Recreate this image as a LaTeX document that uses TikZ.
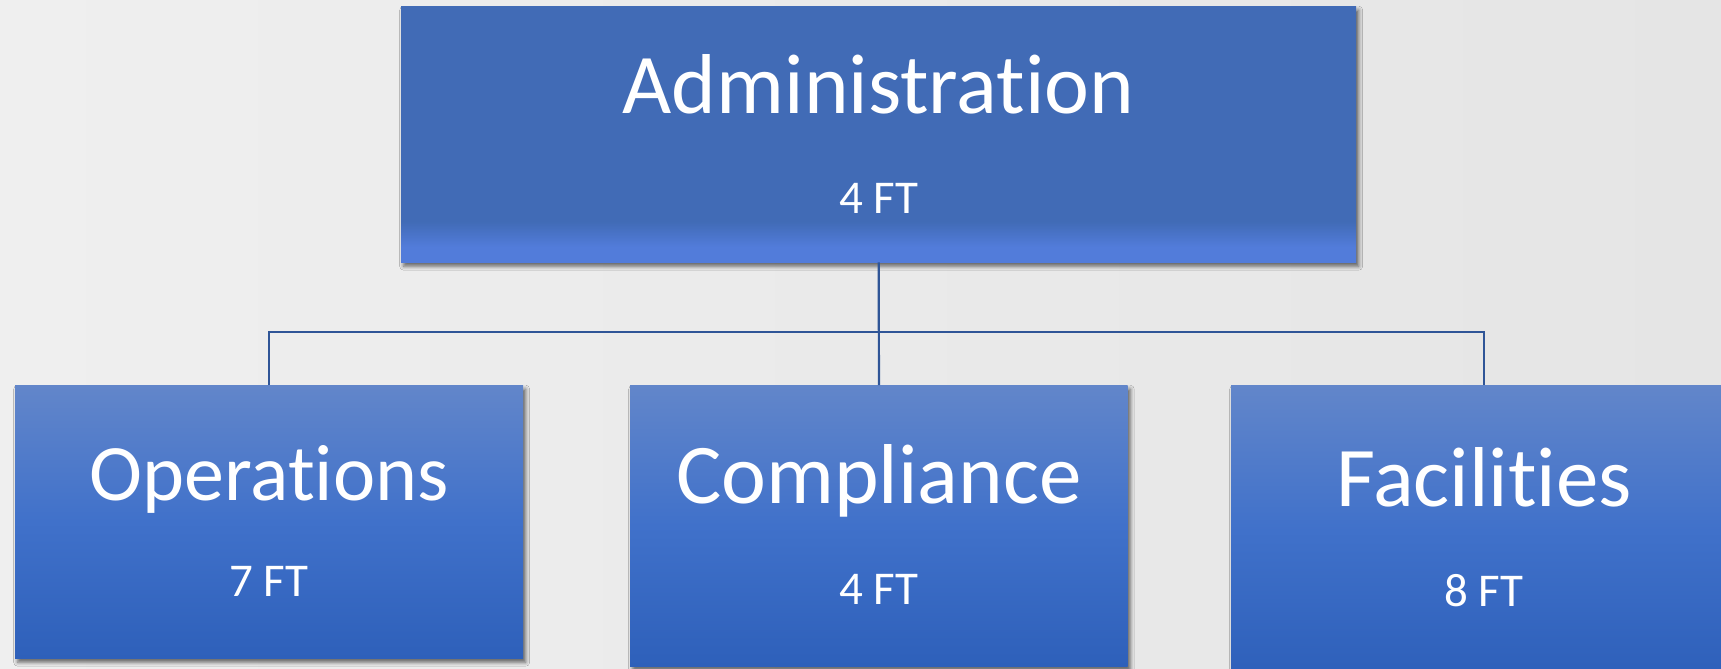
\documentclass[tikz,border=0pt]{standalone}
\usepackage{fontspec}
\setmainfont{Carlito}[Ligatures=NoCommon]
\usetikzlibrary{shadows.blur}
\definecolor{bgl}{RGB}{239,239,239}
\definecolor{bgr}{RGB}{229,229,229}
\definecolor{linec}{RGB}{47,85,151}
\definecolor{tmain}{RGB}{65,107,182}
\definecolor{tlow}{RGB}{82,124,218}
\definecolor{btop}{RGB}{98,134,202}
\definecolor{bmid}{RGB}{64,113,202}
\definecolor{bbot}{RGB}{46,96,186}
\pgfdeclareverticalshading{topshade}{100bp}{color(0bp)=(tlow); color(28bp)=(tlow); color(33bp)=(tmain); color(100bp)=(tmain)}
\pgfdeclareverticalshading{boxshade}{100bp}{color(0bp)=(bbot); color(25bp)=(bbot); color(50bp)=(bmid); color(75bp)=(btop); color(100bp)=(btop)}
\tikzset{
  boxbase/.style={rectangle, draw=none, inner sep=0pt, anchor=north west,
    blur shadow={shadow xshift=2.5pt, shadow yshift=-4pt, shadow blur radius=4pt, shadow opacity=60}},
  topbox/.style={boxbase, shade, shading=topshade},
  subbox/.style={boxbase, shade, shading=boxshade},
  bigtext/.style={anchor=base, inner sep=0pt, text=white, font=\fontsize{85}{90}\selectfont},
  midtext/.style={anchor=base, inner sep=0pt, text=white, font=\fontsize{80}{85}\selectfont},
  fttext/.style={anchor=base, inner sep=0pt, text=white, font=\fontsize{47}{52}\selectfont},
  conn/.style={draw=linec, line width=2.2pt}
}
\begin{document}
\begin{tikzpicture}[x=1pt, y=-1pt]
\useasboundingbox (0,0) rectangle (1721,669);
\shade[left color=bgl, right color=bgr] (0,0) rectangle (1721,669);
\node[topbox, minimum width=955pt, minimum height=256pt] (admin) at (401,6) {};
\node[subbox, minimum width=508pt, minimum height=273pt] (ops) at (15,385) {};
\node[subbox, minimum width=497.5pt, minimum height=281pt] (comp) at (630,385) {};
\node[subbox, minimum width=506pt, minimum height=290pt] (fac) at (1231,385) {};
\node[bigtext] (admint) at (878.5,113) {Administration};
\node[fttext] (adminft) at (878.5,213) {4 FT};
\node[midtext] (opst) at (269,500) {Operations};
\node[fttext] (opsft) at (269,596) {7 FT};
\node[bigtext] (compt) at (879,503) {Compliance};
\node[fttext] (compft) at (879,604) {4 FT};
\node[bigtext] (fact) at (1484,506) {Facilities};
\node[fttext] (facft) at (1484,606) {8 FT};
\coordinate (bus) at (879,332);
\draw[conn] (admin.south) -- (comp.north);
\draw[conn] (ops.north) -- (ops.north |- bus) -- (fac.north |- bus) -- (fac.north);
\end{tikzpicture}
\end{document}
